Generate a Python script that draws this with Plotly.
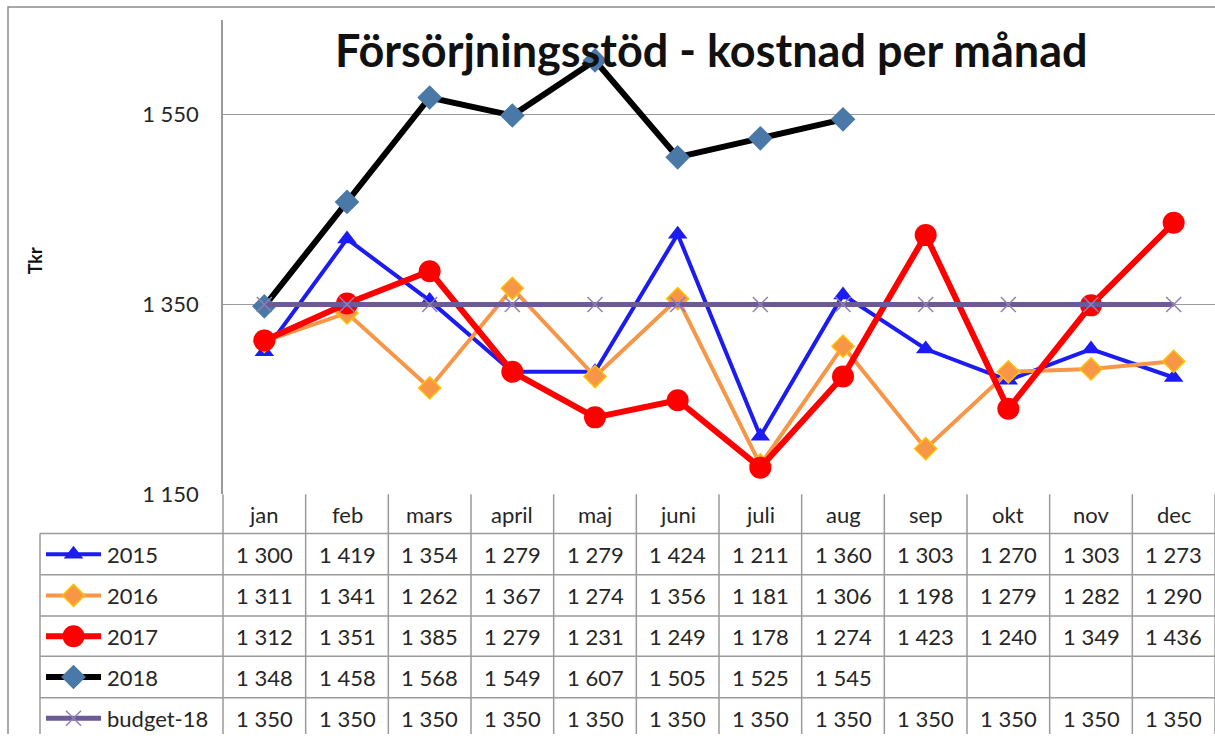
import plotly.graph_objects as go

# Monthly cost of income support (Tkr)
months = ["jan", "feb", "mars", "april", "maj", "juni", "juli", "aug", "sep", "okt", "nov", "dec"]
y2015 = [1300, 1419, 1354, 1279, 1279, 1424, 1211, 1360, 1303, 1270, 1303, 1273]
y2016 = [1311, 1341, 1262, 1367, 1274, 1356, 1181, 1306, 1198, 1279, 1282, 1290]
y2017 = [1312, 1351, 1385, 1279, 1231, 1249, 1178, 1274, 1423, 1240, 1349, 1436]
y2018 = [1348, 1458, 1568, 1549, 1607, 1505, 1525, 1545, None, None, None, None]
budget18 = [1350] * 12
y_ticks = [1150, 1350, 1550]

W, H = 1215, 747
PL, PR, PT, PB = 223, 1215, 20, 503
FONT = "Lato"
GRID = "#9a9a9a"

series = [
    dict(name="2015", y=y2015, line=dict(color="#1c1cf2", width=4),
         marker=dict(symbol="triangle-up", size=17, color="#1c1cf2")),
    dict(name="2016", y=y2016, line=dict(color="#f79646", width=4),
         marker=dict(symbol="diamond", size=17, color="#f79646",
                     line=dict(color="#ffc000", width=1.5))),
    dict(name="2017", y=y2017, line=dict(color="#ff0000", width=6),
         marker=dict(symbol="circle", size=22, color="#ff0000")),
    dict(name="2018", y=y2018, line=dict(color="#000000", width=6),
         marker=dict(symbol="diamond", size=19, color="#4a79a8")),
    dict(name="budget-18", y=budget18, line=dict(color="#6c5a96", width=5),
         marker=dict(symbol="x-thin", size=15, color="#8f80b4",
                     line=dict(color="#8f80b4", width=1.5))),
]

fig = go.Figure()

for s in series:
    fig.add_trace(go.Scatter(
        x=months, y=s["y"], mode="lines+markers", name=s["name"],
        line=s["line"], marker=s["marker"], showlegend=False,
        xaxis="x", yaxis="y", cliponaxis=False,
    ))

# data table geometry (pixel space of the overlay axes)
ncol = len(months)
colw = (PR - PL) / ncol
header_bot = 543
row_edges = [543, 585, 627, 668, 710, 752]
legend_left = 40


def col_center(i):
    return PL + colw * (i + 0.5)


shapes = []
line_style = dict(color=GRID, width=1.5)
# outer chart border
shapes.append(dict(type="rect", xref="x2", yref="y2", x0=8, x1=W + 5, y0=7, y1=H + 20,
                   line=dict(color="#8c8c8c", width=1.5), layer="below"))
# vertical column lines
for i in range(ncol + 1):
    x = PL + colw * i
    shapes.append(dict(type="line", xref="x2", yref="y2", x0=x, x1=x,
                       y0=PB, y1=H + 20, line=line_style))
shapes.append(dict(type="line", xref="x2", yref="y2", x0=legend_left, x1=legend_left,
                   y0=header_bot, y1=H + 20, line=line_style))
# horizontal row lines
for y in row_edges[:-1]:
    shapes.append(dict(type="line", xref="x2", yref="y2", x0=legend_left, x1=PR + 5,
                       y0=y, y1=y, line=line_style))

annotations = []
txt_font = dict(family=FONT, size=22, color="#262626")
for i, m in enumerate(months):
    annotations.append(dict(xref="x2", yref="y2", x=col_center(i), y=(PB + header_bot) / 2 + 1,
                            text=m, showarrow=False, font=txt_font,
                            xanchor="center", yanchor="middle"))


def fmt(v):
    return "" if v is None else f"{v:,}".replace(",", " ")


for r, s in enumerate(series):
    yc = (row_edges[r] + row_edges[r + 1]) / 2
    for i, v in enumerate(s["y"]):
        if v is None:
            continue
        annotations.append(dict(xref="x2", yref="y2", x=col_center(i), y=yc,
                                text=fmt(v), showarrow=False, font=txt_font,
                                xanchor="center", yanchor="middle"))
    # legend key: line sample, marker, label
    fig.add_trace(go.Scatter(
        x=[46, 101], y=[yc, yc], mode="lines", line=s["line"],
        showlegend=False, xaxis="x2", yaxis="y2", hoverinfo="skip"))
    fig.add_trace(go.Scatter(
        x=[73.5], y=[yc], mode="markers", marker=s["marker"],
        showlegend=False, xaxis="x2", yaxis="y2", hoverinfo="skip"))
    annotations.append(dict(xref="x2", yref="y2", x=105, y=yc, text=s["name"],
                            showarrow=False, font=txt_font,
                            xanchor="left", yanchor="middle"))

# title and axis title
annotations.append(dict(xref="x2", yref="y2", x=711, y=51,
                        text="<b>Försörjningsstöd - kostnad per månad</b>",
                        showarrow=False, font=dict(family=FONT, size=45, color="#111111"),
                        xanchor="center", yanchor="middle"))
annotations.append(dict(xref="x2", yref="y2", x=35, y=266, text="<b>Tkr</b>",
                        showarrow=False, textangle=-90,
                        font=dict(family=FONT, size=18, color="#111111"),
                        xanchor="center", yanchor="middle"))

fig.update_layout(
    width=W, height=H,
    margin=dict(l=0, r=0, t=0, b=0),
    paper_bgcolor="white", plot_bgcolor="rgba(0,0,0,0)",
    separators=", ",
    xaxis=dict(domain=[PL / W, PR / W], type="category", range=[-0.5, 11.5],
               showticklabels=False, showgrid=False, zeroline=False,
               showline=False, ticks=""),
    yaxis=dict(domain=[(H - PB) / H, (H - PT) / H], range=[1150, 1650],
               tickmode="array", tickvals=y_ticks, ticktext=[fmt(v) for v in y_ticks],
               showgrid=True, gridcolor=GRID, gridwidth=1.2,
               showline=True, linecolor=GRID, linewidth=1.5,
               zeroline=False, ticks="", ticklabelstandoff=18,
               tickfont=dict(family=FONT, size=22, color="#262626")),
    xaxis2=dict(domain=[0, 1], range=[0, W], visible=False, fixedrange=True),
    yaxis2=dict(domain=[0, 1], range=[H, 0], visible=False, fixedrange=True,
                anchor="x2"),
    shapes=shapes,
    annotations=annotations,
)

fig.write_html("out.html")
